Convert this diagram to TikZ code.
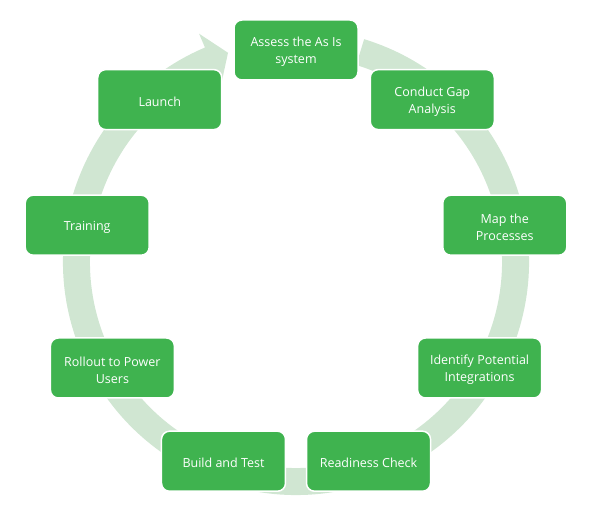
\documentclass[tikz,border=0pt]{standalone}
\usepackage{fontspec}
\setmainfont{Open Sans}
\definecolor{boxgreen}{HTML}{3FB34F}
\definecolor{ringgreen}{HTML}{D0E6D2}
\begin{document}
\begin{tikzpicture}[x=1pt,y=1pt,
  stepbox/.style={draw=white, line width=1.5pt, fill=boxgreen, rounded corners=8pt,
    minimum width=124pt, minimum height=60pt, inner sep=0pt},
  steptext/.style={align=center, inner sep=0pt, text=white,
    font=\fontsize{12.5}{17.3}\selectfont}]
\useasboundingbox (-296,262) rectangle (300,-248);
% ring with arrowhead
\fill[ringgreen] (73:233pt) arc[start angle=73, end angle=-247, radius=233pt]
  -- (-247:248pt) -- (-252:220pt) -- (-247:192pt) -- (-247:206pt)
  arc[start angle=-247, end angle=73, radius=206pt] -- cycle;
% steps
\node[stepbox] (s1) at (90:212pt) {};
\node[stepbox] (s2) at (50:212pt) {};
\node[stepbox] (s3) at (10:212pt) {};
\node[stepbox] (s4) at (-30:212pt) {};
\node[stepbox] (s5) at (-70:212pt) {};
\node[stepbox] (s6) at (-110:212pt) {};
\node[stepbox] (s7) at (-150:212pt) {};
\node[stepbox] (s8) at (170:212pt) {};
\node[stepbox] (s9) at (130:212pt) {};
\node[steptext] (t1) at ([yshift=-2pt]s1.center) {Assess the As Is\\system};
\node[steptext] (t2) at ([yshift=-2pt]s2.center) {Conduct Gap\\Analysis};
\node[steptext] (t3) at ([yshift=-2pt]s3.center) {Map the\\Processes};
\node[steptext] (t4) at ([yshift=-2pt]s4.center) {Identify Potential\\Integrations};
\node[steptext] (t5) at ([yshift=-2pt]s5.center) {Readiness Check};
\node[steptext] (t6) at ([yshift=-2pt]s6.center) {Build and Test};
\node[steptext] (t7) at ([yshift=-2pt]s7.center) {Rollout to Power\\Users};
\node[steptext] (t8) at ([yshift=-2pt]s8.center) {Training};
\node[steptext] (t9) at ([yshift=-2pt]s9.center) {Launch};
\end{tikzpicture}
\end{document}
